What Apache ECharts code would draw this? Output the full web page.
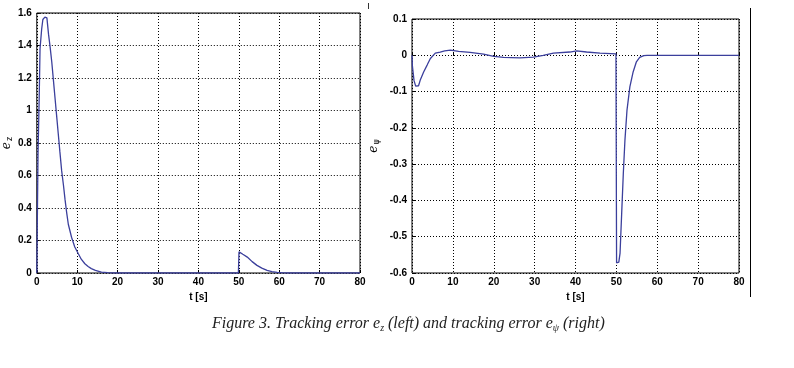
<!DOCTYPE html>
<html><head><meta charset="utf-8">
<script src="https://cdn.jsdelivr.net/npm/echarts@6/dist/echarts.min.js"></script>
<style>html,body{margin:0;padding:0;background:#fff}#c{width:794px;height:368px}</style>
</head><body><div id="c"></div>
<script>
// Left: tracking error e_z
const ezTime  = [0,0.1,0.3,0.6,0.8,1.2,1.5,2.0,2.5,2.9,3.3,3.7,4.1,4.5,4.9,5.3,5.7,6.15,6.6,7.0,7.4,7.8,8.2,8.6,9.4,10.25,11.0,11.9,12.7,13.5,14.5,16,17.5,19.3,49.9,50.05,50.5,51,52.1,53.3,54.5,55.7,57,58.2,59.5,61,62,80];
const ezValue = [0,0.25,0.73,1.09,1.38,1.5,1.56,1.575,1.57,1.47,1.39,1.3,1.19,1.08,0.97,0.86,0.75,0.63,0.54,0.45,0.37,0.30,0.26,0.22,0.16,0.12,0.085,0.057,0.04,0.027,0.016,0.006,0.002,0,0,0.13,0.125,0.115,0.098,0.07,0.047,0.03,0.016,0.008,0.004,0.001,0,0];
// Right: tracking error e_psi
const epTime  = [0,0.1,0.5,0.9,1.6,2.0,2.85,3.7,4.5,5.7,6.9,8,9.4,11.4,14.2,17.5,20,22.4,26.4,29.7,32.1,34.6,38.6,40.3,42.7,46,49.9,50.05,50.6,50.9,51.3,51.7,52.1,52.6,53.3,54.1,54.9,55.7,56.7,57.5,80];
const epValue = [0,-0.03,-0.07,-0.085,-0.084,-0.069,-0.046,-0.027,-0.009,0.006,0.009,0.012,0.014,0.011,0.008,0.003,-0.003,-0.006,-0.007,-0.005,0,0.006,0.009,0.012,0.009,0.006,0.004,-0.572,-0.57,-0.545,-0.435,-0.325,-0.233,-0.151,-0.087,-0.046,-0.018,-0.006,-0.001,0,0];
const xTicks = [0,10,20,30,40,50,60,70,80];
const ezTicks = [0,0.2,0.4,0.6,0.8,1,1.2,1.4,1.6];
const epTicks = [-0.6,-0.5,-0.4,-0.3,-0.2,-0.1,0,0.1];
const caption = ['Figure 3. Tracking error e','z',' (left) and tracking error e','ψ',' (right)'];

const lineColor = '#3b3f9c';
const tickFont = {color:'#000', fontSize:10, fontWeight:'bold', fontFamily:'Liberation Sans, Arial, sans-serif'};
const split = {show:true, lineStyle:{color:'#000', type:[1,2], width:1}};

function xAxis(gi){
  return {type:'value', gridIndex:gi, min:xTicks[0], max:xTicks[xTicks.length-1], interval:10,
    axisLine:{show:false}, axisTick:{inside:true,length:3,lineStyle:{color:'#000'}},
    axisLabel:Object.assign({margin:4}, tickFont), splitLine:split,
    name:'t [s]', nameLocation:'middle', nameGap:15,
    nameTextStyle:{color:'#000', fontSize:10, fontWeight:'bold', fontFamily:'Liberation Sans, Arial, sans-serif'}};
}
function yAxis(gi, ticks, sub, gap){
  return {type:'value', gridIndex:gi, min:ticks[0], max:ticks[ticks.length-1], interval:ticks[1]-ticks[0],
    axisLine:{show:false}, axisTick:{inside:true,length:3,lineStyle:{color:'#000'}},
    axisLabel:Object.assign({margin:5, formatter:v=>String(Math.round(v*10)/10)}, tickFont), splitLine:split,
    name:'{i|e}{s|'+sub+'}', nameLocation:'middle', nameGap:gap, nameRotate:90,
    nameTextStyle:{rich:{
      i:{fontFamily:'DejaVu Serif, serif', fontStyle:'italic', fontSize:12, color:'#000'},
      s:{fontFamily:'DejaVu Sans, sans-serif', fontSize:8, color:'#000', padding:[6,0,0,1]}}}};
}

const chart = echarts.init(document.getElementById('c'), null, {renderer:'canvas'});
chart.setOption({
  backgroundColor:'#fff',
  animation:false,
  grid:[
    {left:35, top:13, width:325, height:260, show:true, borderColor:'#000', borderWidth:1, backgroundColor:'transparent'},
    {left:412, top:19, width:327, height:254, show:true, borderColor:'#000', borderWidth:1, backgroundColor:'transparent'}
  ],
  xAxis:[xAxis(0), xAxis(1)],
  yAxis:[yAxis(0, ezTicks, 'z', 22), yAxis(1, epTicks, 'ψ', 31)],
  series:[
    {type:'line', xAxisIndex:0, yAxisIndex:0, showSymbol:false, lineStyle:{color:lineColor,width:1.3},
      data:ezTime.map((t,i)=>[t,ezValue[i]])},
    {type:'line', xAxisIndex:1, yAxisIndex:1, showSymbol:false, lineStyle:{color:lineColor,width:1.3},
      data:epTime.map((t,i)=>[t,epValue[i]])}
  ],
  graphic:[
    {type:'line', shape:{x1:750.5,y1:8,x2:750.5,y2:297}, style:{stroke:'#000', lineWidth:1}},
    {type:'line', shape:{x1:368.5,y1:3,x2:368.5,y2:9}, style:{stroke:'#333', lineWidth:1}},
    {type:'text', left:212, top:316, style:{
      text:'{a|'+caption[0]+'}{b|'+caption[1]+'}{a|'+caption[2]+'}{b|'+caption[3]+'}{a|'+caption[4]+'}',
      rich:{
        a:{fontFamily:'Liberation Serif, serif', fontStyle:'italic', fontSize:16, fill:'#222'},
        b:{fontFamily:'Liberation Serif, serif', fontStyle:'italic', fontSize:10, fill:'#222', padding:[9,0,0,0]}
      }}}
  ]
});
</script></body></html>
